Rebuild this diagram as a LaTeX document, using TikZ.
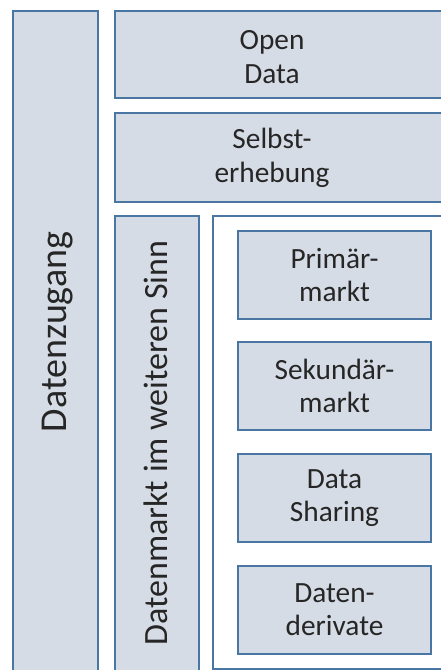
\documentclass[tikz,border=0pt]{standalone}
\usepackage{fontspec}
\setmainfont{Carlito}

\begin{document}
\begin{tikzpicture}[x=0.75pt,y=0.75pt,yscale=-1,xscale=1,
	box/.style={draw={rgb, 255:red, 74; green, 118; blue, 164 },fill={rgb, 255:red, 214; green, 220; blue, 229 },line width=1.5pt},
	frame/.style={draw={rgb, 255:red, 74; green, 118; blue, 164 },fill=white,line width=1.5pt},
	label/.style={text={rgb, 255:red, 38; green, 38; blue, 38 },align=center,inner sep=0pt,font=\fontsize{22}{25}\selectfont},
	sidelabel/.style={label,rotate=90}
]
	\clip (0,0) rectangle (441,670);
	
	%Shape: Rectangle Datenzugang
	\draw [box] (13,11) rectangle (98,690) ;
	%Shape: Rectangle Open Data
	\draw [box] (115,11) rectangle (460,98) ;
	%Shape: Rectangle Selbsterhebung
	\draw [box] (115,113) rectangle (460,202) ;
	%Shape: Rectangle Datenmarkt
	\draw [box] (115,216) rectangle (199,690) ;
	%Shape: Rectangle frame
	\draw [frame] (213,216) rectangle (460,669) ;
	
	%Shape: Rectangle markets
	\node [box,label,minimum width=144.75pt,minimum height=66pt] (primaer) at (334.5,275) {Primär-\\markt};
	\node [box,label,minimum width=144.75pt,minimum height=66pt] (sekundaer) at (334.5,386) {Sekundär-\\markt};
	\node [box,label,minimum width=144.75pt,minimum height=66pt] (sharing) at (334.5,498) {Data\\Sharing};
	\node [box,label,minimum width=144.75pt,minimum height=66pt] (derivate) at (334.5,610) {Daten-\\derivate};
	
	% Text Nodes
	\node [label] (opendata) at (272,57) {Open\\Data};
	\node [label] (selbst) at (272,158) {Selbst-\\erhebung};
	\node [sidelabel,font=\fontsize{28.5}{32}\selectfont] (zugang) at (58,332) {Datenzugang};
	\node [sidelabel,font=\fontsize{25.5}{30}\selectfont] (datenmarkt) at (156,443) {Datenmarkt im weiteren Sinn};
	
\end{tikzpicture}
\end{document}
